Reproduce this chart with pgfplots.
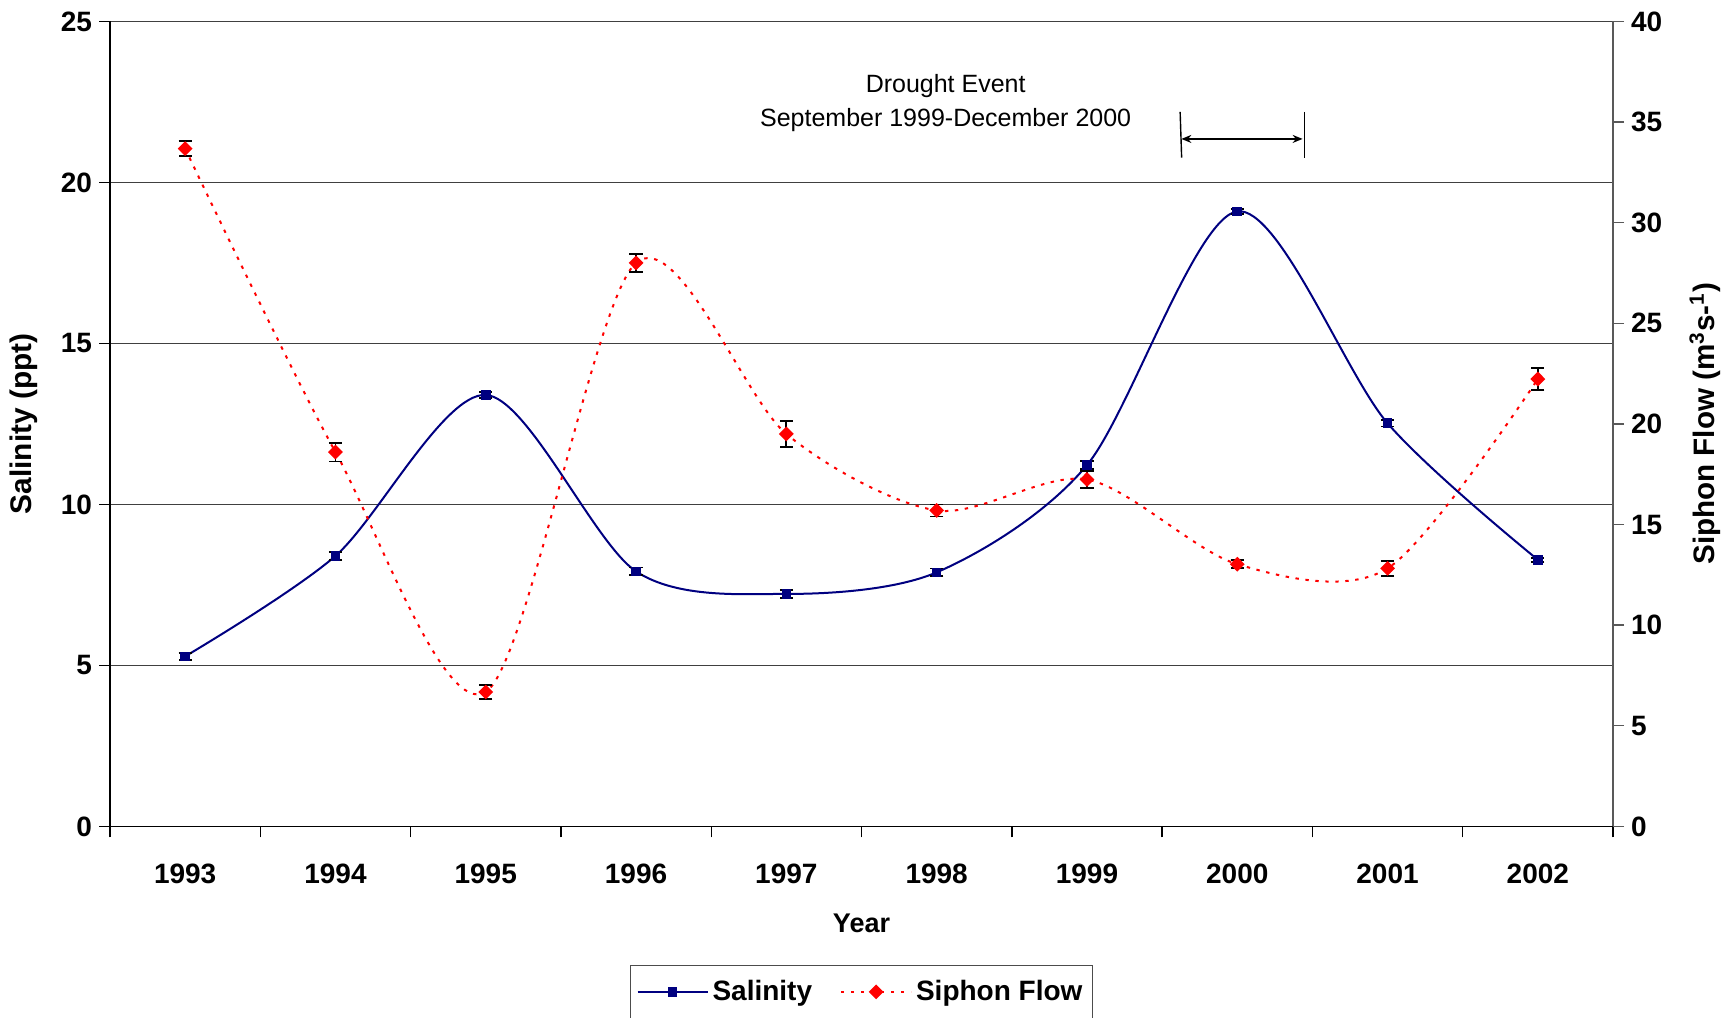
\documentclass[border=0pt]{standalone}
\usepackage{fontspec}
\setmainfont{Liberation Sans}
\usepackage{pgfplots}
\pgfplotsset{compat=1.18}
\usepackage{pgfplotstable}
\usetikzlibrary{arrows.meta}

\definecolor{navy}{RGB}{0,0,128}

\pgfplotstableread{
x y e
1 5.28 0.10
2 8.40 0.12
3 13.40 0.10
4 7.92 0.12
5 7.22 0.12
6 7.89 0.12
7 11.22 0.12
8 19.10 0.08
9 12.52 0.10
10 8.28 0.06
}\salinity

\pgfplotstableread{
x y e
1 33.68 0.36
2 18.60 0.47
3 6.68 0.33
4 28.00 0.46
5 19.50 0.65
6 15.70 0.30
7 17.24 0.41
8 13.03 0.19
9 12.82 0.38
10 22.23 0.55
}\flow

\newcommand{\tickfont}{\fontsize{14bp}{16bp}\selectfont\bfseries}

\begin{document}
\begin{tikzpicture}
\begin{axis}[
  at={(0,0)}, anchor=south west,
  scale only axis, width=751.5bp, height=402.5bp,
  xmin=0.5, xmax=10.5, ymin=0, ymax=25,
  axis y line*=left, axis x line*=bottom,
  axis line style={black, line width=0.7bp},
  xtick={0.5,1.5,2.5,3.5,4.5,5.5,6.5,7.5,8.5,9.5,10.5},
  xticklabels={1993,1994,1995,1996,1997,1998,1999,2000,2001,2002},
  x tick label as interval,
  xticklabel style={yshift=-10bp},
  ytick={0,5,10,15,20,25},
  ymajorgrids, grid style={black!75, line width=0.6bp},
  tick align=outside, major tick length=5.5bp,
  tick style={black, line width=0.7bp},
  /pgf/number format/assume math mode=true,
  ticklabel style={font=\tickfont},
  xlabel={Year}, ylabel={Salinity (ppt)},
  xlabel style={font=\fontsize{13.5bp}{16bp}\selectfont\bfseries, at={(axis description cs:0.5,-0.1205)}, anchor=center},
  ylabel style={font=\fontsize{14.9bp}{16bp}\selectfont\bfseries, at={(axis description cs:-0.0572,0.5)}, anchor=center},
  legend style={at={(axis description cs:0.5,-0.2056)}, anchor=center,
    legend columns=2, draw=black!70, line width=0.6bp,
    inner ysep=5.5bp,
    font=\fontsize{14bp}{16bp}\selectfont\bfseries,
    /tikz/every even column/.append style={column sep=12bp}},
  legend image code/.code={\draw[mark repeat=2, mark phase=2] plot coordinates {(0bp,0bp) (17.5bp,0bp) (35bp,0bp)};},
]
\addplot[navy, line width=1bp, smooth, mark=square*, mark size=1.9bp, mark options={navy},
  error bars/.cd, y dir=both, y explicit,
  error bar style={black, line width=0.9bp},
  error mark options={rotate=90, black, mark size=3.3bp, line width=0.9bp}]
  table[x=x, y=y, y error=e] {\salinity};
\addlegendentry{Salinity}
\addlegendimage{red, line width=1bp, dash pattern=on 1.7bp off 3.3bp, mark=diamond*, mark size=3bp, mark options={solid, xscale=1.33, red}}
\addlegendentry{Siphon Flow}

\node[font=\fontsize{12.5bp}{17bp}\selectfont, align=center] at (axis cs:6.06,22.45) {Drought Event\\September 1999-December 2000};
\draw[{Stealth[length=5bp,width=4bp]}-{Stealth[length=5bp,width=4bp]}, line width=0.7bp] (axis cs:7.628,21.35) -- (axis cs:8.435,21.35);
\draw[line width=0.7bp] (axis cs:7.62,22.19) -- (axis cs:7.63,20.77);
\draw[line width=0.7bp] (axis cs:8.448,22.19) -- (axis cs:8.448,20.77);
\end{axis}

\begin{axis}[
  at={(0,0)}, anchor=south west,
  scale only axis, width=751.5bp, height=402.5bp,
  xmin=0.5, xmax=10.5, ymin=0, ymax=40,
  axis y line*=right, axis x line=none,
  axis line style={black!65, line width=0.7bp},
  ytick={0,5,10,15,20,25,30,35,40},
  tick align=outside, major tick length=5.5bp,
  tick style={black!65, line width=0.7bp},
  /pgf/number format/assume math mode=true,
  ticklabel style={font=\tickfont},
  ylabel={Siphon Flow (m\textsuperscript{3}s-\textsuperscript{1})},
  ylabel style={font=\fontsize{14.8bp}{16bp}\selectfont\bfseries, at={(axis description cs:1.0612,0.5)}, anchor=center},
]
\addplot[red, line width=1bp, dash pattern=on 1.7bp off 3.3bp, smooth, mark=diamond*, mark size=3bp, mark options={solid, xscale=1.33, red},
  error bars/.cd, y dir=both, y explicit,
  error bar style={solid, black, line width=0.9bp},
  error mark options={solid, rotate=90, black, mark size=3.3bp, line width=0.9bp}]
  table[x=x, y=y, y error=e] {\flow};
\end{axis}
\pgfresetboundingbox
\path (-55bp,-95.8bp) rectangle (806.5bp,413.2bp);
\end{tikzpicture}
\end{document}
